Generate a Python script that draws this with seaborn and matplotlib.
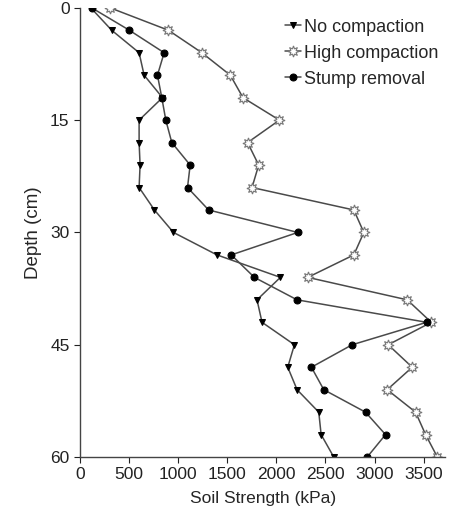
import matplotlib
matplotlib.use("Agg")
import matplotlib.pyplot as plt
import numpy as np
import pandas as pd
import seaborn as sns

sns.set_style("ticks")
plt.rcParams['font.family'] = ['Liberation Sans', 'DejaVu Sans']

depth = list(range(0, 61, 3))
no_compaction = [110, 323, 602, 653, 840, 602, 602, 612, 602, 758, 952,
                 1395, 2041, 1803, 1854, 2184, 2116, 2211, 2432, 2456, 2585]
high_compaction = [306, 901, 1241, 1531, 1660, 2031, 1707, 1820, 1752, 2789, 2891,
                   2789, 2320, 3333, 3578, 3139, 3384, 3129, 3418, 3520, 3640]
stump_removal = [119, 503, 857, 789, 833, 874, 935, 1122, 1095, 1310, 2218,
                 1541, 1776, 2211, 3531, 2772, 2357, 2483, 2908, 3112, 2925]

fig = plt.figure(figsize=(4.52, 5.20), dpi=100)
ax = fig.add_axes([0.177, 0.121, 0.808, 0.864])

line_col = "#4a4a4a"
sns.lineplot(x=no_compaction, y=depth, sort=False, estimator=None, ax=ax,
             color=line_col, lw=1.1, marker="v", ms=5, mfc="black", mec="black",
             label="No compaction")
sns.lineplot(x=high_compaction, y=depth, sort=False, estimator=None, ax=ax,
             color=line_col, lw=1.1, marker=(8, 1, 0), ms=8, mfc="white", mec="#777777",
             mew=0.8, label="High compaction")
sns.lineplot(x=stump_removal, y=depth, sort=False, estimator=None, ax=ax,
             color=line_col, lw=1.1, marker="o", ms=5, mfc="black", mec="black",
             label="Stump removal")

ax.set_xlim(0, 3720)
ax.set_ylim(60, 0)
ax.set_xticks([0, 500, 1000, 1500, 2000, 2500, 3000, 3500])
ax.set_yticks([0, 15, 30, 45, 60])
ax.tick_params(labelsize=12.5, length=4, width=0.8, colors="#222222")
ax.set_xlabel("Soil Strength (kPa)", fontsize=12.5, labelpad=6)
ax.set_ylabel("Depth (cm)", fontsize=13.5, labelpad=6)
for s in ["top", "right"]:
    ax.spines[s].set_visible(False)
for s in ["left", "bottom"]:
    ax.spines[s].set_color("#444444")
    ax.spines[s].set_linewidth(1.0)

ax.legend(loc="upper right", bbox_to_anchor=(1.01, 1.0), frameon=False, fontsize=13,
          handlelength=0.9, handletextpad=0.15, labelspacing=0.5, borderaxespad=0.2)

fig.savefig("out.png", dpi=100)
